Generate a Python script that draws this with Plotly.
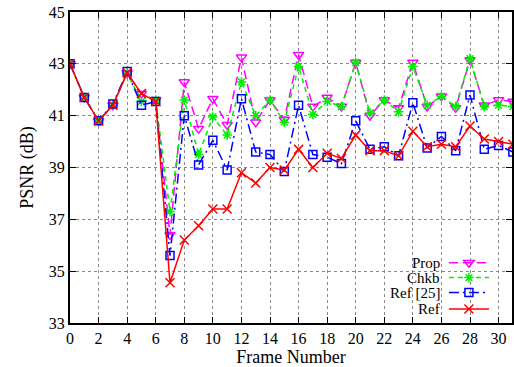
import plotly.graph_objects as go

frames = list(range(0, 32))

prop = [43.0, 41.7, 40.8, 41.4, 42.65, 41.85, 41.6, 36.4, 42.3, 40.5, 41.65, 40.65,
        43.25, 40.75, 41.6, 40.85, 43.35, 41.35, 41.7, 41.35, 43.05, 41.0, 41.6, 41.3,
        43.05, 41.35, 41.75, 41.3, 43.15, 41.4, 41.6, 41.55]
chkb = [43.0, 41.7, 40.8, 41.4, 42.65, 41.55, 41.6, 37.3, 41.6, 39.5, 40.95, 40.25,
        42.3, 41.0, 41.6, 40.75, 42.9, 41.05, 41.55, 41.35, 43.05, 41.1, 41.6, 41.15,
        42.9, 41.4, 41.75, 41.35, 43.2, 41.35, 41.4, 41.35]
ref25 = [43.0, 41.7, 40.8, 41.45, 42.7, 41.4, 41.55, 35.6, 41.0, 39.1, 40.05, 38.9,
         41.65, 39.6, 39.5, 38.85, 41.4, 39.5, 39.4, 39.15, 40.8, 39.7, 39.8, 39.45,
         41.5, 39.75, 40.2, 39.65, 41.8, 39.7, 39.85, 39.6]
ref = [43.0, 41.7, 40.8, 41.4, 42.65, 41.85, 41.55, 34.55, 36.2, 36.75, 37.4, 37.4,
       38.8, 38.4, 39.0, 38.9, 39.7, 39.0, 39.55, 39.35, 40.25, 39.65, 39.65, 39.45,
       40.4, 39.8, 39.9, 39.8, 40.6, 40.1, 40.0, 39.9]

series_names = ["Prop", "Chkb", "Ref [25]", "Ref"]
xticks = list(range(0, 31, 2))
yticks = list(range(33, 46, 2))

FONT = "Liberation Serif, Times New Roman, serif"

fig = go.Figure()
styles = [
    (prop, "#ff00ff", "9px,5px", "triangle-down-open", 9),
    (chkb, "#00ee00", "5px,4px", "asterisk-open", 8),
    (ref25, "#0000ff", "10px,4px,2px,4px", "square-open", 8),
    (ref, "#ff0000", "solid", "x-thin-open", 9),
]
legend_ids = ["legend", "legend2", "legend3", "legend4"]
for name, (vals, col, dash, sym, ms), lid in zip(series_names, styles, legend_ids):
    fig.add_trace(go.Scatter(
        x=frames, y=vals, mode="lines+markers", name="", legend=lid,
        line=dict(color=col, width=1.5, dash=dash),
        marker=dict(symbol=sym, size=ms, color=col, line=dict(color=col, width=1.5)),
        cliponaxis=True,
    ))

# legend rows (paper y) and right-aligned labels, gnuplot style
row_y = [0.194, 0.146, 0.098, 0.045]
for name, yy in zip(series_names, row_y):
    fig.add_annotation(x=0.84, y=yy, xref="paper", yref="paper", text=name,
                       showarrow=False, xanchor="right", yanchor="middle", borderpad=0,
                       font=dict(family=FONT, size=15, color="black"))

# white key box covering grid
fig.add_shape(type="rect", xref="paper", yref="paper", x0=0.716, x1=0.975,
              y0=0.006, y1=0.225, fillcolor="white", line=dict(width=0), layer="between")

axis_common = dict(
    showline=True, linecolor="black", linewidth=2, mirror="ticks",
    ticks="inside", ticklen=6, tickcolor="black", tickwidth=1,
    showgrid=True, gridcolor="#888888", griddash="dot", gridwidth=1,
    zeroline=False, tickfont=dict(family=FONT, size=16, color="black"),
)
fig.update_xaxes(range=[0, 30.94], tickvals=xticks, **axis_common,
                 title=dict(text="Frame Number", font=dict(family=FONT, size=18, color="black"), standoff=4))
fig.update_yaxes(range=[33, 45], tickvals=yticks, **axis_common,
                 title=dict(text="PSNR (dB)", font=dict(family=FONT, size=18, color="black"), standoff=10))

leg_common = dict(x=0.846, xanchor="left", yanchor="middle", bgcolor="rgba(0,0,0,0)",
                  itemwidth=40, font=dict(family=FONT, size=10), borderwidth=0)
layout_legs = {lid: dict(y=yy, **leg_common) for lid, yy in zip(legend_ids, row_y)}

fig.update_layout(
    width=514, height=367,
    margin=dict(l=70, r=0, t=12, b=44),
    plot_bgcolor="white", paper_bgcolor="white",
    showlegend=True,
    **layout_legs,
)

fig.write_html("out.html")
